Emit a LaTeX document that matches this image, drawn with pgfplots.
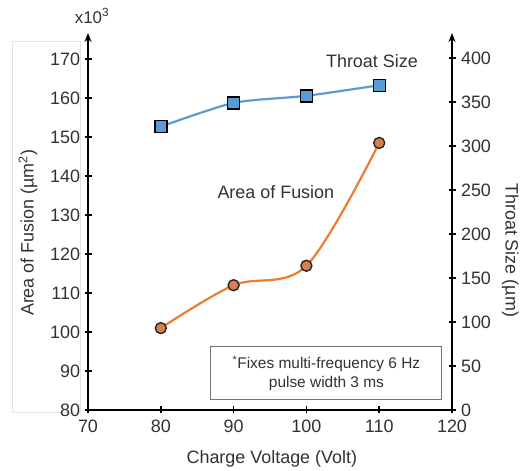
\documentclass[border=0pt]{standalone}
\usepackage{fontspec}
\setmainfont{Liberation Sans}
\usepackage{pgfplots}
\pgfplotsset{compat=1.18}
\usetikzlibrary{arrows.meta}
\definecolor{tblue}{RGB}{91,155,213}
\definecolor{forange}{RGB}{237,125,49}
\definecolor{fmark}{RGB}{214,128,78}
\definecolor{txt}{RGB}{50,50,50}

\begin{document}
\begin{tikzpicture}[x=1bp,y=1bp]
\useasboundingbox (0,0) rectangle (526,471);
% faint frame left over round the left label
\draw[black!10, line width=1bp] (12,58) rectangle (80,429);
\pgfplotsset{every axis/.append style={
  scale only axis, width=364bp, height=377bp,
  at={(88bp,61bp)}, anchor=south west,
  xmin=70, xmax=120, clip=false,
  tick align=center, major tick length=7bp,
  every tick/.style={black, line width=1.6bp},
  axis line style={black, line width=2.2bp},
  tick label style={font=\fontsize{18}{21}\selectfont, text=txt},
  /pgf/number format/assume math mode=true,
}}
\begin{axis}[
  axis x line=bottom, axis y line=left,
  x axis line style={-},
  y axis line style={-{Stealth[length=9bp,width=7bp]}},
  ymin=80, ymax=176.7,
  xtick={70,80,...,120}, ytick={80,90,...,170},
  xticklabel style={yshift=-3bp},
  yticklabel style={xshift=-1bp},
]
\addplot[forange, line width=2.2bp, smooth, tension=0.55,
  mark=*, mark size=5.5bp, mark options={fill=fmark, draw=black!85, line width=1.4bp}]
  coordinates {(80,101) (90,112) (100,117) (110,148.5)};
\node[font=\fontsize{18}{21}\selectfont, text=txt] at (rel axis cs:0.516,0.578) {Area of Fusion};
\node[font=\fontsize{17}{20}\selectfont, text=txt] at (rel axis cs:0.011,1.045) {x10\textsuperscript{3}};
\node[font=\fontsize{18}{21}\selectfont, text=txt, rotate=90] at (rel axis cs:-0.165,0.47) {Area of Fusion (µm\textsuperscript{2})};
\node[font=\fontsize{18}{21}\selectfont, text=txt] at (rel axis cs:0.505,-0.13) {Charge Voltage (Volt)};
\node[draw=black!55, line width=1bp, minimum width=231bp, minimum height=53bp, align=center,
  font=\fontsize{15.5}{19}\selectfont, text=txt, fill=white] at (rel axis cs:0.655,0.097)
  {\textsuperscript{*}Fixes multi-frequency 6 Hz\\pulse width 3 ms};
\end{axis}
\begin{axis}[
  axis x line=none, axis y line=right,
  y axis line style={-{Stealth[length=9bp,width=7bp]}},
  ymin=0, ymax=428.4,
  ytick={0,50,...,400},
  yticklabel style={xshift=2bp},
]
\addplot[tblue, line width=2.2bp, smooth, tension=0.4,
  mark=square*, mark size=6bp, mark options={fill=tblue, draw=black, line width=1.4bp}]
  coordinates {(80,322) (90,349) (100,357) (110,369)};
\node[font=\fontsize{18}{21}\selectfont, text=txt] at (rel axis cs:0.78,0.925) {Throat Size};
\node[font=\fontsize{18}{21}\selectfont, text=txt, rotate=-90] at (rel axis cs:1.16,0.424) {Throat Size (µm)};
\end{axis}
\end{tikzpicture}
\end{document}
